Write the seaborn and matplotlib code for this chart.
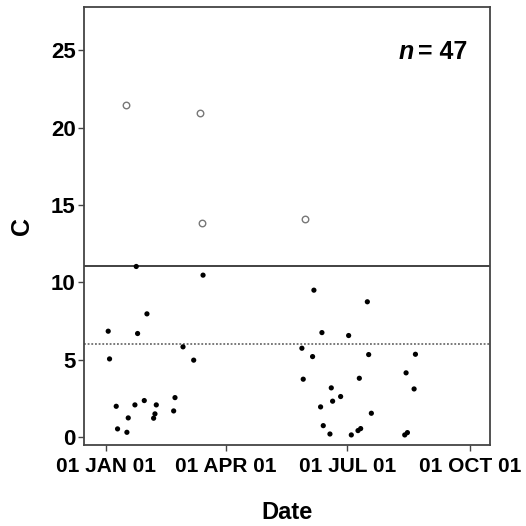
"""
Scatter of C over sampling date with threshold lines.
"""
import pandas as pd
import matplotlib
matplotlib.use("Agg")
import matplotlib.pyplot as plt
import seaborn as sns

# Regular samples (filled dots)
dates = [
    "2001-01-24", "2001-03-15", "2001-01-03", "2001-01-04", "2001-02-01",
    "2001-01-25", "2001-01-09", "2001-01-10", "2001-01-18", "2001-01-17",
    "2001-01-23", "2001-01-30", "2001-02-08", "2001-02-07", "2001-02-06",
    "2001-02-22", "2001-02-21", "2001-02-28", "2001-03-08",
    "2001-06-06", "2001-07-16", "2001-06-12", "2001-07-02", "2001-05-28",
    "2001-06-05", "2001-07-17", "2001-08-21", "2001-05-29", "2001-07-10",
    "2001-08-14", "2001-08-20", "2001-06-19", "2001-06-26", "2001-06-20",
    "2001-06-11", "2001-07-19", "2001-06-13", "2001-06-18", "2001-07-04",
    "2001-07-09", "2001-07-11", "2001-08-13", "2001-08-15",
]
values = [
    11.03, 10.47, 6.85, 5.06, 7.97,
    6.70, 2.00, 0.54, 1.25, 0.32,
    2.09, 2.37, 2.09, 1.51, 1.23,
    2.56, 1.70, 5.84, 4.98,
    9.50, 8.75, 6.76, 6.57, 5.75,
    5.21, 5.34, 5.36, 3.75, 3.81,
    4.16, 3.12, 3.19, 2.63, 2.33,
    1.96, 1.55, 0.75, 0.21, 0.15,
    0.43, 0.56, 0.15, 0.30,
]

# Samples above the upper limit (open circles)
out_dates = ["2001-01-16", "2001-03-13", "2001-03-14", "2001-05-30"]
out_values = [21.46, 20.94, 13.87, 14.09]

upper_limit = 11.03
mean_level = 6.01

tick_dates = ["2001-01-01", "2001-04-01", "2001-07-01", "2001-10-01"]
tick_labels = ["01 JAN 01", "01 APR 01", "01 JUL 01", "01 OCT 01"]

df = pd.DataFrame({"Date": pd.to_datetime(dates), "C": values})
df_out = pd.DataFrame({"Date": pd.to_datetime(out_dates), "C": out_values})

sns.set_style("ticks")
plt.rcParams["font.family"] = ["Liberation Sans", "DejaVu Sans"]
plt.rcParams["font.weight"] = "bold"
plt.rcParams["text.color"] = "black"
plt.rcParams["axes.labelcolor"] = "black"

fig = plt.figure(figsize=(5.26, 5.26), dpi=100)
ax = fig.add_axes([0.16, 0.154, 0.772, 0.833])

sns.scatterplot(data=df, x="Date", y="C", ax=ax, color="black",
                s=14, edgecolor="none", zorder=3)
sns.scatterplot(data=df_out, x="Date", y="C", ax=ax, facecolor="white",
                edgecolor="#777777", s=22, linewidth=1.0, zorder=3)

ax.axhline(upper_limit, color="#333333", lw=1.3)
ax.axhline(mean_level, color="#555555", lw=1.1, ls=(0, (1.2, 1.2)))

ax.set_xlim(pd.Timestamp("2000-12-16"), pd.Timestamp("2001-10-16"))
ax.set_ylim(-0.5, 27.8)
ax.set_xticks(pd.to_datetime(tick_dates))
ax.set_xticklabels(tick_labels)
ax.set_yticks([0, 5, 10, 15, 20, 25])

ax.tick_params(axis="x", labelsize=15, length=4, width=1, color="#444444",
               labelcolor="black", pad=5)
ax.tick_params(axis="y", labelsize=16, length=4, width=1, color="#444444",
               labelcolor="black", pad=2)
for lab in ax.get_xticklabels() + ax.get_yticklabels():
    lab.set_fontweight("bold")

ax.set_xlabel("Date", fontsize=17, fontweight="bold", labelpad=18)
ax.set_ylabel("C", fontsize=18, fontweight="bold", labelpad=12)

for sp in ax.spines.values():
    sp.set_visible(True)
    sp.set_color("#444444")
    sp.set_linewidth(1.3)

ax.text(0.812, 0.897, "n", transform=ax.transAxes, fontsize=18,
        fontweight="bold", style="italic", ha="right", va="center")
ax.text(0.822, 0.897, "= 47", transform=ax.transAxes, fontsize=18,
        fontweight="bold", ha="left", va="center")

fig.savefig("out.png", dpi=100)
plt.close(fig)
